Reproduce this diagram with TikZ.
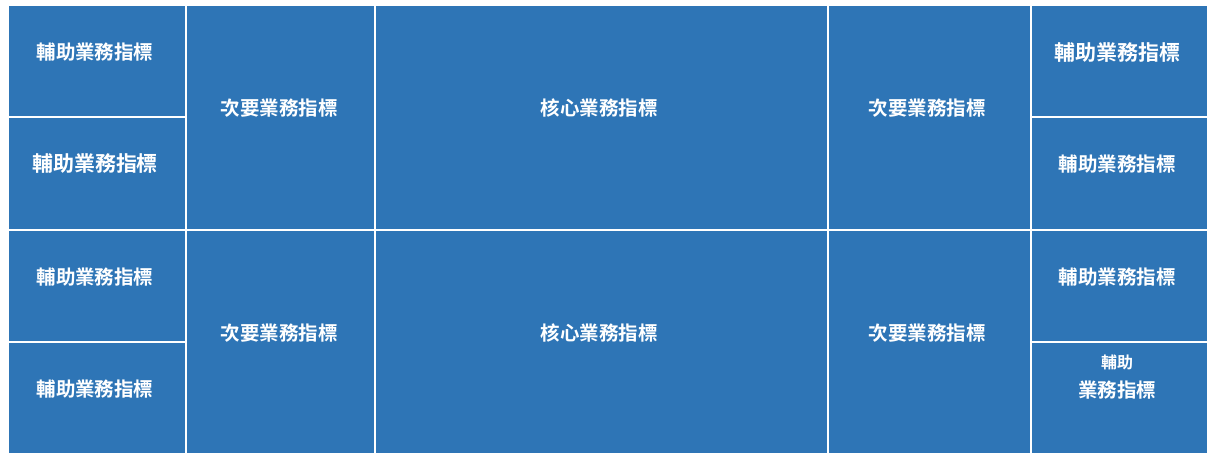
\documentclass[tikz,border=0pt]{standalone}
\usepackage{fontspec}
\newfontfamily\cjk{Noto Sans CJK TC}[BoldFont={Noto Sans CJK TC Bold}]
\definecolor{cellblue}{RGB}{46,117,182}
\tikzset{
  cell/.style={fill=cellblue, draw=white, line width=1.6pt},
  lbl/.style={text=white, font=\cjk\bfseries\fontsize{19.5}{21}\selectfont, inner sep=0pt},
  lblbig/.style={text=white, font=\cjk\bfseries\fontsize{21}{23}\selectfont, inner sep=0pt},
  lblsmall/.style={text=white, font=\cjk\bfseries\fontsize{16}{18}\selectfont, inner sep=0pt}
}
\begin{document}
\begin{tikzpicture}[x=1pt,y=-1pt]
\useasboundingbox (0,0) rectangle (1216,459);
\fill[white] (0,0) rectangle (1216,459);
% cells
\draw[cell] (8,5) rectangle (186,117);
\draw[cell] (8,117) rectangle (186,230);
\draw[cell] (8,230) rectangle (186,342);
\draw[cell] (8,342) rectangle (186,454);
\draw[cell] (186,5) rectangle (375,230);
\draw[cell] (186,230) rectangle (375,454);
\draw[cell] (375,5) rectangle (828,230);
\draw[cell] (375,230) rectangle (828,454);
\draw[cell] (828,5) rectangle (1031,230);
\draw[cell] (828,230) rectangle (1031,454);
\draw[cell] (1031,5) rectangle (1208,117);
\draw[cell] (1031,117) rectangle (1208,230);
\draw[cell] (1031,230) rectangle (1208,342);
\draw[cell] (1031,342) rectangle (1208,454);
% labels
\node[lbl] (a1) at (95,52) {輔助業務指標};
\node[lblbig] (a2) at (95,163) {輔助業務指標};
\node[lbl] (a3) at (95,277) {輔助業務指標};
\node[lbl] (a4) at (95,389) {輔助業務指標};
\node[lbl] (s1) at (279,108) {次要業務指標};
\node[lbl] (s2) at (279,333) {次要業務指標};
\node[lbl] (k1) at (599,108) {核心業務指標};
\node[lbl] (k2) at (599,333) {核心業務指標};
\node[lbl] (s3) at (927,108) {次要業務指標};
\node[lbl] (s4) at (927,333) {次要業務指標};
\node[lblbig] (b1) at (1117,52) {輔助業務指標};
\node[lbl] (b2) at (1117,164) {輔助業務指標};
\node[lbl] (b3) at (1117,277) {輔助業務指標};
\node[lblsmall] (b4a) at (1117,362) {輔助};
\node[lbl] (b4b) at (1117,390) {業務指標};
\end{tikzpicture}
\end{document}
